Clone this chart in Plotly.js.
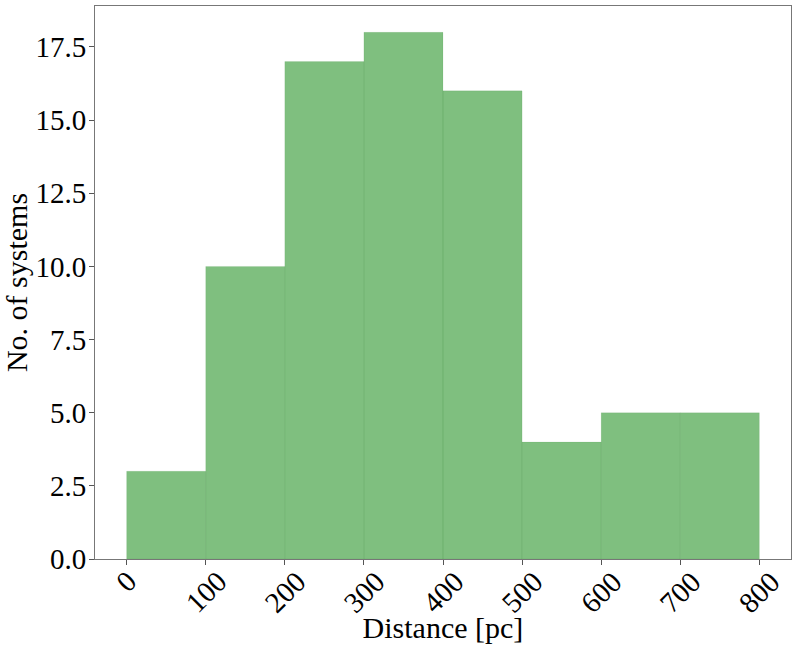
<!DOCTYPE html>
<html>
<head>
<meta charset="utf-8">
<script src="https://cdn.plot.ly/plotly-3.0.1.min.js"></script>
<style>
  html, body { margin: 0; padding: 0; background: #fff; }
  #plot { width: 797px; height: 653px; }
</style>
</head>
<body>
<div id="plot"></div>
<script>
// histogram bins (pc) and counts
const binEdges = [0, 100, 200, 300, 400, 500, 600, 700, 800];
const counts = [3, 10, 17, 18, 16, 4, 5, 5];
const xTicks = [0, 100, 200, 300, 400, 500, 600, 700, 800];
const yTicks = [0, 2.5, 5, 7.5, 10, 12.5, 15, 17.5];

const centers = counts.map((c, i) => (binEdges[i] + binEdges[i + 1]) / 2);
const widths = counts.map((c, i) => binEdges[i + 1] - binEdges[i]);

const serif = 'Liberation Serif, Times New Roman, serif';

const trace = {
    type: 'bar',
    x: centers,
    y: counts,
    width: widths,
    marker: {
        color: 'rgba(0,128,0,0.5)',
        line: { color: 'rgba(0,100,0,0.07)', width: 1 }
    },
    hoverinfo: 'x+y'
};

// rotated tick labels, centred under each tick like matplotlib
const tickLabels = xTicks.map(v => ({
    x: v, xref: 'x',
    y: 0, yref: 'paper',
    yshift: -3,
    text: String(v),
    textangle: -45,
    showarrow: false,
    xanchor: 'center',
    yanchor: 'top',
    font: { family: serif, size: 29, color: '#000' }
}));

const layout = {
    width: 797,
    height: 653,
    margin: { l: 95, r: 6, t: 6, b: 94 },
    paper_bgcolor: '#fff',
    plot_bgcolor: '#fff',
    showlegend: false,
    bargap: 0,
    xaxis: {
        range: [-40, 840],
        tickvals: xTicks,
        showticklabels: false,
        ticks: 'outside',
        ticklen: 5,
        tickcolor: '#555',
        showgrid: false,
        zeroline: false,
        showline: true,
        linecolor: '#777',
        linewidth: 1,
        mirror: true,
        title: {
            text: 'Distance [pc]',
            font: { family: serif, size: 30, color: '#000' },
            standoff: 52
        }
    },
    yaxis: {
        range: [0, 18.9],
        tickvals: yTicks,
        tickformat: '.1f',
        ticks: 'outside',
        ticklen: 5,
        tickcolor: '#555',
        ticklabelstandoff: -3,
        tickfont: { family: serif, size: 29, color: '#000' },
        showgrid: false,
        zeroline: false,
        showline: true,
        linecolor: '#777',
        linewidth: 1,
        mirror: true,
        title: {
            text: 'No. of systems',
            font: { family: serif, size: 30, color: '#000' },
            standoff: 8
        }
    },
    annotations: tickLabels
};

Plotly.newPlot('plot', [trace], layout, { displayModeBar: false, staticPlot: true });
</script>
</body>
</html>
